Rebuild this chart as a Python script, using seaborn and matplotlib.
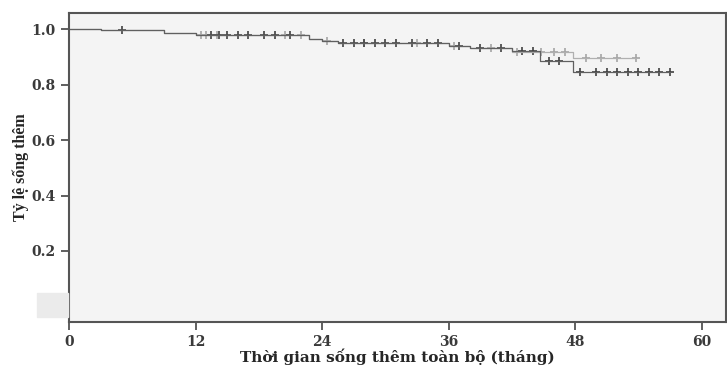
import numpy as np
import pandas as pd
import matplotlib
matplotlib.use('Agg')
import matplotlib.pyplot as plt
import seaborn as sns

# Đường Kaplan-Meier - nhóm 1 (đậm)
t_nhom1 = [0, 3, 9, 12, 22.8, 24, 25.5, 36, 38, 42, 44.7, 47.8, 57]
s_nhom1 = [1.0, 0.995, 0.985, 0.978, 0.966, 0.957, 0.951, 0.94, 0.932, 0.921, 0.885, 0.845, 0.845]
# nhóm 2 (nhạt)
t_nhom2 = [0, 3, 9, 12, 22.8, 24, 25.5, 36, 38, 42, 47.8, 53.8]
s_nhom2 = [1.0, 0.995, 0.987, 0.98, 0.966, 0.957, 0.951, 0.94, 0.932, 0.917, 0.895, 0.895]

# Thời điểm kiểm duyệt (dấu +)
cens_nhom1 = [5, 13.5, 14.2, 15, 16, 17, 18.5, 19.5, 21, 26, 27, 28, 29, 30, 31, 32.5, 34, 35,
              37, 39, 41, 43, 44, 45.5, 46.5, 48.5, 50, 51, 52, 53, 54, 55, 56, 57]
cens_nhom2 = [12.5, 13, 14, 20.5, 22, 24.5, 28, 33, 36.5, 40, 42.5, 44.8, 46, 47, 49, 50.5, 52, 53.8]

x_ticks = [0, 12, 24, 36, 48, 60]
y_ticks = [0.0, 0.2, 0.4, 0.6, 0.8, 1.0]
y_tick_labels = ['', '0.2', '0.4', '0.6', '0.8', '1.0']


def tra_cuu(t_list, s_list, t):
    # giá trị sống thêm tại thời điểm t (hàm bậc thang)
    idx = np.searchsorted(t_list, t, side='right') - 1
    return s_list[idx]


df_line = pd.concat([
    pd.DataFrame({'t': t_nhom1, 's': s_nhom1, 'nhom': '1'}),
    pd.DataFrame({'t': t_nhom2, 's': s_nhom2, 'nhom': '2'}),
])
df_cens = pd.concat([
    pd.DataFrame({'t': cens_nhom1, 's': [tra_cuu(t_nhom1, s_nhom1, c) for c in cens_nhom1], 'nhom': '1'}),
    pd.DataFrame({'t': cens_nhom2, 's': [tra_cuu(t_nhom2, s_nhom2, c) for c in cens_nhom2], 'nhom': '2'}),
])

sns.set_style('ticks')
plt.rcParams['font.family'] = ['DejaVu Serif']

fig = plt.figure(figsize=(7.27, 3.70), dpi=100)
ax = fig.add_axes([69 / 727, 1 - 322 / 370, 1 - 69 / 727 - 0.002, (322 - 13) / 370])
ax.set_facecolor('#f4f4f4')

mau_line = {'2': '#b0b0b0', '1': '#606060'}
mau_mark = {'2': '#a5a5a5', '1': '#404040'}

sns.lineplot(data=df_line[df_line.nhom == '2'], x='t', y='s', drawstyle='steps-post',
             color=mau_line['2'], lw=0.9, estimator=None, ax=ax)
sns.lineplot(data=df_line[df_line.nhom == '1'], x='t', y='s', drawstyle='steps-post',
             color=mau_line['1'], lw=0.9, estimator=None, ax=ax)
sns.scatterplot(data=df_cens[df_cens.nhom == '2'], x='t', y='s', marker='+', s=30,
                color=mau_mark['2'], linewidth=1.2, ax=ax)
sns.scatterplot(data=df_cens[df_cens.nhom == '1'], x='t', y='s', marker='+', s=30,
                color=mau_mark['1'], linewidth=1.2, ax=ax)

ax.set_xlim(0, (727 - 69) / 10.567)
ax.set_ylim(-0.056, 1.058)
ax.set_xticks(x_ticks)
ax.set_yticks(y_ticks)
ax.set_yticklabels(y_tick_labels)
ax.tick_params(axis='both', direction='out', length=6, width=1.2, color='#444444',
               labelsize=10, labelcolor='#3a3a3a')
for lab in ax.get_xticklabels() + ax.get_yticklabels():
    lab.set_fontweight('bold')
for sp in ax.spines.values():
    sp.set_visible(True)
    sp.set_color('#555555')
    sp.set_linewidth(1.5)

ax.set_xlabel('Thời gian sống thêm toàn bộ (tháng)', fontsize=11, fontweight='bold')
ax.xaxis.set_label_coords(0.5, -0.085)
ax.set_ylabel('Tỷ lệ sống thêm', fontsize=11.5, fontweight='bold', labelpad=2,
              family=['Liberation Serif', 'DejaVu Serif'])

# ô xám che nhãn 0.0 như trong hình gốc
fig.patches.append(plt.Rectangle((37 / 727, 1 - 317 / 370), 31 / 727, 24 / 370,
                                 transform=fig.transFigure, color='#ebebeb', zorder=5))

fig.savefig('out.png', dpi=100)
